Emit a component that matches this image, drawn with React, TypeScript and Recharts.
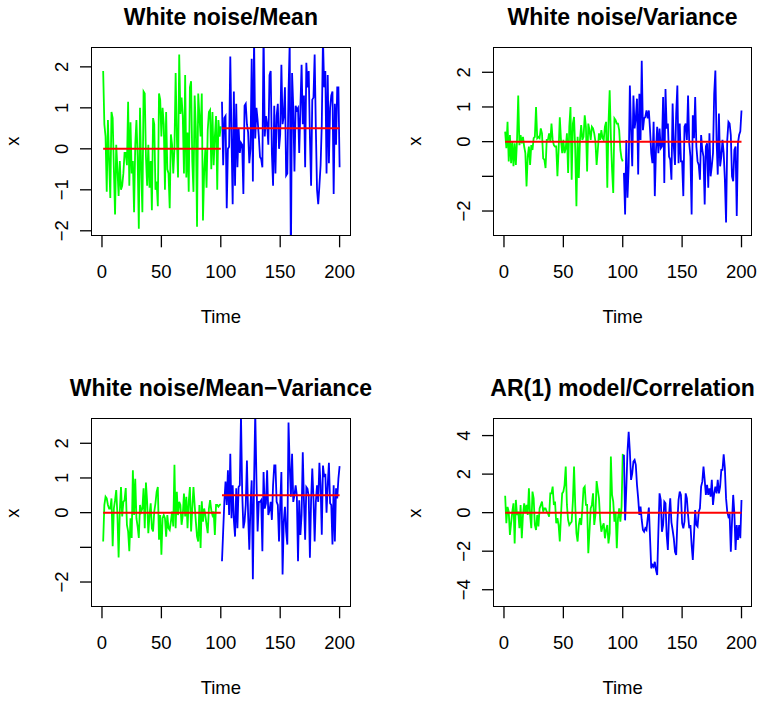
import { LineChart, Line, XAxis, YAxis } from "recharts";

const FONT = "'Liberation Sans', Arial, Helvetica, sans-serif";

const timeTicks = [0, 50, 100, 150, 200];
const xDomain: [number, number] = [-8.4, 209];

// White noise / Mean
const meanGreen = [
  1.9, 0.6, 0.3, -1.05, 0.7, -0.3, -1.2, 0.9, 0.75, -0.5,
  -1.6, 0.1, -0.5, -1.15, -0.3, -1.0, -0.9, -0.6, -0.1, -0.1,
  -0.4, 1.15, -0.9, 0.65, -0.6, -0.3, -1.55, 0.1, 0.7, -0.2,
  -1.95, 1.0, -0.5, -1.55, 1.4, 1.35, -0.2, -0.9, 0.1, -0.95,
  -0.3, -1.5, 0.75, 0.6, -1.0, -0.8, -1.4, 1.35, 1.2, 0.3,
  1.0, 0.6, -1.0, 0.9, -0.5, -0.6, -1.45, 0.35, 0.1, -0.6,
  0.0, 1.85, 0.3, -0.7, 2.3, 0.85, 1.25, 0.8, -0.6, 1.8,
  -0.7, 0.4, -1.05, 1.5, 1.65, -0.3, -1.05, 1.3, 0.5, -1.9,
  1.35, 0.8, 0.3, 1.35, -1.75, -0.55, 0.0, -0.95, 0.45, 0.9,
  0.95, -0.5, 0.9, -0.4, 0.3, 0.8, -1.0, 0.7, 0.3, 0.55,
];
const meanBlue = [
  1.15, -0.4, 0.75, 0.8, -1.45, 0.0, 0.05, 2.25, 0.3, -1.35,
  1.4, -0.9, 1.1, -0.45, 0.5, -0.1, 0.15, 0.1, -1.1, 1.05,
  1.1, 0.6, 0.4, -0.35, 0.0, 2.2, -0.8, 2.7, 0.25, 1.0,
  0.7, 0.3, -0.2, -0.25, -0.45, 2.9, 0.3, 0.8, 0.6, 0.1,
  1.8, 1.9, -0.1, -0.9, 1.05, -0.6, 0.8, 1.1, 0.0, 0.35,
  2.05, 0.6, 0.8, 1.5, -0.65, -0.6, 1.4, 2.6, -2.8, 1.85,
  1.0, -0.55, 1.05, 0.95, 1.0, -0.1, 1.0, 2.05, 0.6, 1.3,
  -0.45, 2.1, 1.5, 1.9, 0.3, -0.9, 1.2, 1.25, 2.3, 0.5,
  -1.0, -1.35, -0.9, -0.4, 0.6, 2.7, 1.5, 1.9, -0.6, 1.8,
  -0.35, 1.0, 1.3, 1.4, -1.1, 1.1, 0.1, 1.5, 1.5, -0.45,
];

// White noise / Variance
const varGreen = [
  0.29, -0.19, 0.57, -0.57, 0.19, -0.62, 0.0, -0.71, -0.05, -0.67,
  0.05, 1.33, -0.1, 0.19, -0.05, 0.14, -0.14, -0.33, -1.29, -0.43,
  -0.14, -0.67, -0.1, -0.24, 0.1, 0.14, 1.0, 0.1, 0.14, 0.1,
  0.38, 0.24, -0.48, -0.52, -0.76, 0.05, 0.05, 0.24, 0.0, 0.52,
  0.05, -0.1, -0.14, -0.14, -1.0, -0.24, 0.7, 0.05, -0.33, 0.05,
  -0.33, -0.19, 0.24, -0.9, 0.43, 1.0, -1.1, 0.52, 0.71, -0.24,
  -1.86, 0.14, -1.05, 0.05, 0.48, 0.05, 0.14, 0.76, 0.43, -0.86,
  0.52, 0.33, 0.05, 0.43, 0.38, 0.24, 0.0, -0.67, -0.24, 0.24,
  0.05, 0.33, 0.1, 0.05, 0.43, 0.57, -1.33, 0.52, 1.48, 0.14,
  -0.81, -1.48, 0.67, 0.62, 0.52, 0.52, 0.33, -0.24, -0.48, -0.57,
];
const varBlue = [
  -0.9, -2.1, 0.05, -1.62, -0.71, 1.62, 0.33, -0.71, 1.33, 0.38,
  0.67, 1.24, -0.95, 1.38, 0.05, 2.33, 0.33, 0.67, 0.71, 0.9,
  0.67, 0.9, 0.33, -0.33, -0.62, 0.57, -1.57, -0.24, 0.43, -0.33,
  0.38, -0.19, -0.14, 1.29, -1.19, 1.52, 0.38, 0.52, -0.43, -0.52,
  -1.1, 1.1, -0.14, -0.67, 0.81, 1.62, -0.62, 0.52, -0.57, -0.57,
  -1.57, 0.43, 0.52, 0.05, 1.33, -0.05, -0.43, -2.1, 0.76, 0.1,
  1.29, -0.14, -0.57, -0.67, -1.1, 0.19, -0.24, -0.43, -1.81, -0.14,
  -0.05, -1.33, 0.24, -1.0, -0.71, -0.33, 1.38, 2.05, 0.05, -0.95,
  0.81, -0.71, -0.43, 0.05, -0.33, -1.1, -2.33, 0.05, 0.57, 0.52,
  0.19, -1.0, -1.14, -0.24, -0.14, -2.14, -0.05, 0.19, 0.3, 0.9,
];

// White noise / Mean-Variance
const mvGreen = [
  -0.83, 0.22, 0.46, 0.41, 0.22, 0.12, 0.12, 0.41, -0.97, 0.12,
  0.36, 0.65, -0.07, -1.29, 0.03, 0.74, -0.11, 0.31, 0.36, 0.71,
  -0.35, -0.54, -1.11, -0.16, -0.73, 1.22, -0.07, 0.98, -0.16, -0.4,
  -0.73, 0.22, 0.03, 0.12, 0.7, -0.45, 0.87, 0.31, -0.59, -0.07,
  0.27, -0.45, -0.54, 0.03, 0.27, 0.6, 0.74, -0.78, -0.07, -1.21,
  -0.16, -0.07, -0.16, -0.69, -0.07, -0.45, -0.5, -0.26, 0.03, -0.4,
  1.38, -0.45, 0.6, -0.07, 0.31, 0.22, -0.35, -0.07, 0.55, -0.11,
  0.46, -0.45, 0.31, 0.74, -0.54, 0.12, 0.74, 0.22, -0.26, -0.69,
  -0.83, 0.22, -1.02, 0.33, -0.26, 0.12, -0.07, -0.35, -0.59, 0.12,
  0.36, 0.07, -0.07, 0.03, -0.64, 0.22, 0.22, 0.17, 0.22, 0.24,
];
const mvBlue = [
  -1.4, -0.54, 0.31, 0.9, 0.22, 1.22, -0.07, 1.7, -0.16, 0.79,
  -0.21, -0.69, 0.7, -0.45, 0.74, 0.79, 2.8, 0.6, -0.45, -0.26,
  0.22, 1.5, -0.07, -1.07, 0.22, 0.93, -1.92, 0.88, 2.9, 0.98,
  -0.54, 0.31, 0.31, 0.36, -1.11, 1.17, 0.12, 0.27, 1.22, -0.07,
  0.07, 0.31, -0.21, 0.79, 1.36, 1.36, 0.31, 0.22, -0.83, 0.22,
  1.17, -1.78, -0.26, 0.17, -0.54, -0.92, 2.6, 1.36, 0.46, 1.7,
  0.31, 0.5, 0.79, 0.5, -1.4, 0.36, -0.64, -0.07, 1.74, 0.31,
  -0.78, 0.74, 0.69, 0.46, -1.3, 0.36, 1.27, 0.41, -0.83, 0.31,
  0.79, 0.31, 1.44, 0.79, -0.64, 1.36, 1.03, 1.12, 0.0, 0.79,
  1.44, 0.27, 0.22, -0.92, 0.79, -0.83, 0.7, 0.41, 0.98, 1.34,
];

// AR(1) model / Correlation
const arGreen = [
  0.88, -0.55, 0.3, 0.05, -1.16, -0.55, 0.05, 0.48, -1.6, 0.66,
  -0.12, 0.05, -0.81, 0.4, -1.33, -0.12, 0.48, -0.03, 0.4, -0.12,
  1.26, -0.12, -0.81, 1.09, 0.74, -0.64, -0.9, -0.12, -0.72, 0.22,
  0.4, 0.57, 0.05, 0.22, 0.22, 0.05, -0.03, -0.21, 1.0, 1.0,
  1.35, 0.4, 0.57, -0.55, -0.29, -0.64, -1.5, -0.12, 1.0, 1.09,
  1.43, 2.39, 0.4, -0.38, -0.64, -0.55, -0.47, 0.57, 2.39, 0.4,
  -1.07, -1.5, -0.64, -0.29, -0.64, 0.22, 1.26, 1.35, 0.4, 0.4,
  -2.11, -0.99, 0.22, 0.4, 1.0, -0.64, -0.12, 1.64, 1.17, 0.74,
  -0.38, -0.99, -0.72, -0.55, -1.33, -0.9, -0.64, -1.6, -1.07, 2.91,
  0.92, 0.57, -0.47, 0.05, -1.85, -0.29, 0.22, -0.47, 0.3, 3.05,
];
const arBlue = [
  3.0, -0.4, 1.26, 3.17, 4.2, 3.17, 1.7, 2.04, 2.65, 2.74,
  2.48, 1.44, 0.74, -0.12, 0.31, -0.38, -0.9, -0.99, -0.81, -0.9,
  -0.29, 0.26, -1.33, -2.89, -2.72, -2.81, -2.55, -2.98, -3.24, -1.0,
  1.0, 0.66, -0.99, -0.64, 0.57, 0.48, -1.16, -1.94, -0.12, 0.74,
  -0.5, -0.9, -1.33, -2.03, -2.2, -0.47, 0.66, 1.09, 0.92, -0.55,
  -0.81, -0.47, 1.0, 0.74, -0.12, -0.81, -0.64, -1.68, -2.46, -1.16,
  0.14, -0.64, -0.72, 0.05, 0.22, 1.35, 1.61, 2.39, 1.7, 0.92,
  1.44, 0.92, 1.26, 0.83, 1.7, 0.4, 1.0, 1.35, 1.0, 1.7,
  1.0, 1.35, 2.22, 2.22, 3.03, 2.3, 0.74, 0.05, -0.21, -0.12,
  -2.03, -0.47, 0.92, -0.03, -1.94, -0.64, -1.42, -0.64, -1.33, 0.66,
];

// red reference lines: [from, to, value]
const splitMeans: [number, number, number][] = [
  [1, 100, 0],
  [101, 200, 0.5],
];
const flatMean: [number, number, number][] = [[1, 200, 0]];

type PanelCfg = {
  title: string;
  green: number[];
  blue: number[];
  means: [number, number, number][];
  yDomain: [number, number];
  yTicks: number[];
  hideY: number[];
  box: { left: number; top: number; right: number; bottom: number };
};

const panels: PanelCfg[] = [
  {
    title: "White noise/Mean",
    green: meanGreen,
    blue: meanBlue,
    means: splitMeans,
    yDomain: [-2.11, 2.46],
    yTicks: [-2, -1, 0, 1, 2],
    hideY: [],
    box: { left: 91.7, top: 47.7, right: 350, bottom: 235 },
  },
  {
    title: "White noise/Variance",
    green: varGreen,
    blue: varBlue,
    means: flatMean,
    yDomain: [-2.7, 2.7],
    yTicks: [-2, -1, 0, 1, 2],
    hideY: [-1],
    box: { left: 493.5, top: 47.7, right: 751.7, bottom: 235 },
  },
  {
    title: "White noise/Mean\u2212Variance",
    green: mvGreen,
    blue: mvBlue,
    means: splitMeans,
    yDomain: [-2.7, 2.7],
    yTicks: [-2, -1, 0, 1, 2],
    hideY: [-1],
    box: { left: 91.7, top: 419, right: 350, bottom: 606.3 },
  },
  {
    title: "AR(1) model/Correlation",
    green: arGreen,
    blue: arBlue,
    means: flatMean,
    yDomain: [-4.86, 4.86],
    yTicks: [-4, -2, 0, 2, 4],
    hideY: [],
    box: { left: 493.5, top: 419, right: 751.7, bottom: 606.3 },
  },
];

function buildRows(cfg: PanelCfg) {
  const n = cfg.green.length + cfg.blue.length;
  const rows: Record<string, number | null>[] = [];
  for (let t = 1; t <= n; t++) {
    const row: Record<string, number | null> = { t };
    row.g = t <= cfg.green.length ? cfg.green[t - 1] : null;
    row.b = t > cfg.green.length ? cfg.blue[t - cfg.green.length - 1] : null;
    cfg.means.forEach(([from, to, v], i) => {
      row["m" + i] = t >= from && t <= to ? v : null;
    });
    rows.push(row);
  }
  return rows;
}

const fmt = (v: number) => (v < 0 ? "\u2212" + Math.abs(v) : String(v));

const AXIS_W = 70;
const AXIS_H = 60;
const PAD = 10;
const TICK = 12;
const LABEL_SIZE = 18.5;

function Panel({ cfg }: { cfg: PanelCfg }) {
  const { left, top, right, bottom } = cfg.box;
  const w = right - left;
  const h = bottom - top;
  const rows = buildRows(cfg);

  const xTick = (p: any) => (
    <text
      x={p.x}
      y={p.y + 24}
      textAnchor="middle"
      dominantBaseline="central"
      fontFamily={FONT}
      fontSize={LABEL_SIZE}
      fill="#000"
    >
      {p.payload.value}
    </text>
  );
  const yTick = (p: any) => {
    if (cfg.hideY.includes(p.payload.value)) return <g />;
    const cx = p.x - 18;
    return (
      <text
        x={cx}
        y={p.y}
        transform={`rotate(-90 ${cx} ${p.y})`}
        textAnchor="middle"
        dominantBaseline="central"
        fontFamily={FONT}
        fontSize={LABEL_SIZE}
        fill="#000"
      >
        {fmt(p.payload.value)}
      </text>
    );
  };

  return (
    <>
      <div style={{ position: "absolute", left: left - AXIS_W, top: top - PAD }}>
        <LineChart
          width={w + AXIS_W + PAD}
          height={h + PAD + AXIS_H}
          data={rows}
          margin={{ top: PAD, right: PAD, bottom: 0, left: 0 }}
        >
          <XAxis
            type="number"
            dataKey="t"
            domain={xDomain}
            ticks={timeTicks}
            interval={0}
            allowDataOverflow
            axisLine={false}
            tickSize={TICK}
            tickMargin={0}
            tickLine={{ stroke: "#000", strokeWidth: 1.3 }}
            tick={xTick}
            height={AXIS_H}
          />
          <YAxis
            type="number"
            domain={cfg.yDomain}
            ticks={cfg.yTicks}
            interval={0}
            allowDataOverflow
            axisLine={false}
            tickSize={TICK}
            tickMargin={0}
            tickLine={{ stroke: "#000", strokeWidth: 1.3 }}
            tick={yTick}
            width={AXIS_W}
          />
          <Line
            dataKey="g"
            stroke="#00ff00"
            strokeWidth={1.8}
            dot={false}
            activeDot={false}
            connectNulls={false}
            isAnimationActive={false}
          />
          <Line
            dataKey="b"
            stroke="#0000ff"
            strokeWidth={1.8}
            dot={false}
            activeDot={false}
            connectNulls={false}
            isAnimationActive={false}
          />
          {cfg.means.map((_, i) => (
            <Line
              key={i}
              dataKey={"m" + i}
              stroke="#ff0000"
              strokeWidth={2}
              dot={false}
              activeDot={false}
              connectNulls={false}
              isAnimationActive={false}
            />
          ))}
        </LineChart>
      </div>
      <div
        style={{
          position: "absolute",
          left: left - 0.7,
          top: top - 0.7,
          width: w + 1.4,
          height: h + 1.4,
          border: "1.4px solid #000",
          boxSizing: "border-box",
          pointerEvents: "none",
        }}
      />
      <div
        style={{
          position: "absolute",
          left: (left + right) / 2 - 200,
          width: 400,
          top: top - 31 - 15,
          height: 30,
          lineHeight: "30px",
          textAlign: "center",
          fontFamily: FONT,
          fontWeight: "bold",
          fontSize: 23,
          color: "#000",
          whiteSpace: "nowrap",
        }}
      >
        {cfg.title}
      </div>
      <div
        style={{
          position: "absolute",
          left: (left + right) / 2 - 100,
          width: 200,
          top: bottom + 82 - 15,
          height: 30,
          lineHeight: "30px",
          textAlign: "center",
          fontFamily: FONT,
          fontSize: LABEL_SIZE,
          color: "#000",
        }}
      >
        Time
      </div>
      <div
        style={{
          position: "absolute",
          left: left - 78.4 - 15,
          width: 30,
          top: (top + bottom) / 2 - 15,
          height: 30,
          lineHeight: "30px",
          textAlign: "center",
          fontFamily: FONT,
          fontSize: LABEL_SIZE,
          color: "#000",
          transform: "rotate(-90deg)",
        }}
      >
        x
      </div>
    </>
  );
}

export default function App() {
  return (
    <div
      style={{
        position: "absolute",
        left: 0,
        top: 0,
        width: 759,
        height: 701,
        background: "#fff",
        overflow: "hidden",
      }}
    >
      {panels.map((p) => (
        <Panel key={p.title} cfg={p} />
      ))}
    </div>
  );
}
